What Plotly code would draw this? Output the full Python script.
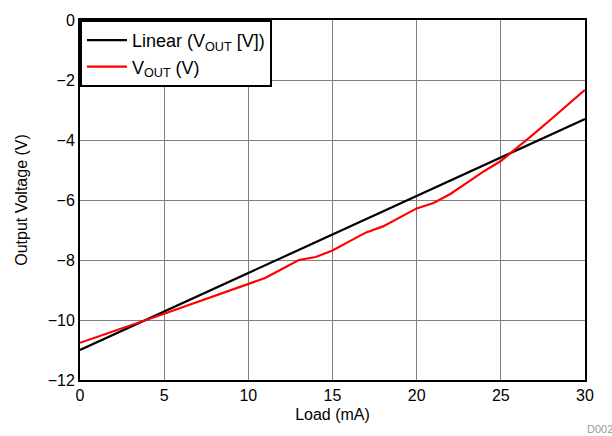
import plotly.graph_objects as go

load_ma = list(range(0, 31))
linear_vout = [-11 + 0.2567 * x for x in load_ma]
vout = [-10.76, -10.57, -10.38, -10.19, -10.0, -9.79, -9.59, -9.39, -9.19, -8.99,
        -8.79, -8.6, -8.3, -8.0, -7.9, -7.68, -7.38, -7.08, -6.88, -6.58,
        -6.28, -6.1, -5.8, -5.42, -5.04, -4.7, -4.25, -3.78, -3.3, -2.82, -2.33]

x_tick_step = 5
y_tick_step = 2

FONT = "Liberation Sans, Arial, sans-serif"

fig = go.Figure()
fig.add_trace(go.Scatter(x=load_ma, y=linear_vout, mode="lines",
                         name="Linear (V<sub>OUT</sub> [V])",
                         line=dict(color="black", width=2.2)))
fig.add_trace(go.Scatter(x=load_ma, y=vout, mode="lines",
                         name="V<sub>OUT</sub> (V)",
                         line=dict(color="#ff0000", width=2.2)))

fig.update_layout(
    width=612, height=436,
    margin=dict(l=80, r=27, t=18, b=56),
    paper_bgcolor="white", plot_bgcolor="white",
    font=dict(family=FONT, size=16, color="black"),
    showlegend=True,
    legend=dict(x=0, y=1, xanchor="left", yanchor="top",
                bgcolor="white", bordercolor="black", borderwidth=2,
                font=dict(family=FONT, size=18),
                tracegroupgap=0, itemwidth=40),
    xaxis=dict(range=[0, 30], tickmode="linear", tick0=0, dtick=x_tick_step,
               showgrid=True, gridcolor="#7f7f7f", gridwidth=1,
               showline=True, linecolor="black", linewidth=2, mirror=True,
               ticks="", zeroline=False, layer="below traces",
               title=dict(text="Load (mA)", standoff=6,
                          font=dict(family=FONT, size=16))),
    yaxis=dict(range=[-12, 0], tickmode="linear", tick0=0, dtick=y_tick_step,
               showgrid=True, gridcolor="#7f7f7f", gridwidth=1,
               showline=True, linecolor="black", linewidth=2, mirror=True,
               ticks="", zeroline=False, layer="below traces",
               title=dict(text="Output Voltage (V)", standoff=16,
                          font=dict(family=FONT, size=16))),
)
fig.add_annotation(text="D002", xref="paper", yref="paper", x=1.06, y=-0.115,
                   xanchor="right", yanchor="top", showarrow=False,
                   font=dict(family=FONT, size=11, color="#999999"))

fig.write_html("out.html")
